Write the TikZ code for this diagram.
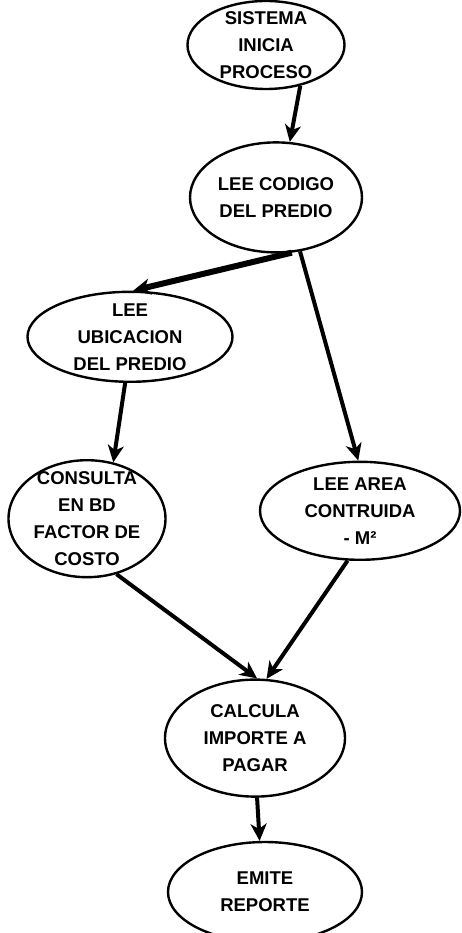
\documentclass[tikz,border=0pt]{standalone}
\usepackage{fontspec}
\setmainfont{Liberation Sans}
\usetikzlibrary{shapes.geometric, arrows.meta, positioning}

\begin{document}
\begin{tikzpicture}[
        x=1pt, y=1pt,
        proc/.style={ellipse, draw=black, line width=2.4pt, align=center, inner xsep=0pt, inner ysep=-8pt, font=\fontsize{18.5}{27}\selectfont\bfseries},
        arrow/.style={-{Stealth[length=17pt,width=16pt,inset=5pt]}, line width=4pt, black},
        heavy/.style={arrow, line width=6pt}
    ]
        \useasboundingbox (-266,45) rectangle (196,-888);

        % Nodes
        \node[proc, minimum width=157pt, minimum height=88pt] (start) {SISTEMA\\INICIA\\PROCESO};
        \node[proc, minimum width=172pt, minimum height=110pt, below=51pt of start, xshift=10pt] (codigo) {LEE CODIGO\\DEL PREDIO};
        \node[proc, minimum width=205pt, minimum height=90pt, below=37pt of codigo, xshift=-146pt] (ubic) {LEE\\UBICACION\\DEL PREDIO};
        \node[proc, minimum width=157pt, minimum height=117pt, below=76pt of ubic, xshift=-43pt] (consulta) {CONSULTA\\EN BD\\FACTOR DE\\COSTO};
        \node[proc, minimum width=200pt, minimum height=98pt, below=207pt of codigo, xshift=84pt] (area) {LEE AREA\\CONTRUIDA\\- M²};
        \node[proc, minimum width=180pt, minimum height=117pt, below=100pt of consulta, xshift=168pt] (calcula) {CALCULA\\IMPORTE A\\PAGAR};
        \node[proc, minimum width=194pt, minimum height=100pt, below=43pt of calcula, xshift=10pt] (emite) {EMITE\\REPORTE};

        % Arrows
        \draw[arrow] (start.-50) -- (codigo.76);
        \draw[heavy] (codigo.-74) -- (ubic.86);
        \draw[arrow] (codigo.-66) -- (area.92);
        \draw[arrow] (ubic.-96) -- (consulta.65);
        \draw[arrow] (consulta.-62) -- (calcula.88);
        \draw[arrow] (area.-104) -- (calcula.79);
        \draw[arrow] (calcula.-88) -- (emite.96);
    \end{tikzpicture}
\end{document}
